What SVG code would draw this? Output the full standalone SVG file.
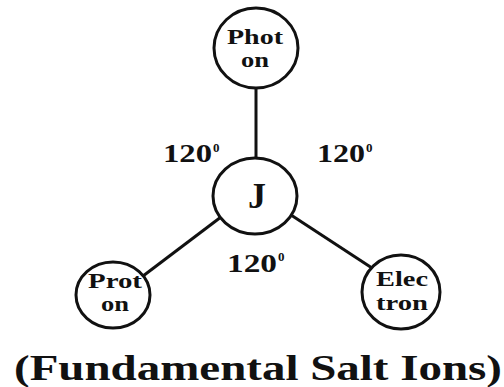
<svg xmlns="http://www.w3.org/2000/svg" width="504" height="387" viewBox="0 0 504 387">
<style>
.node ellipse{fill:#fff;stroke:#111;stroke-width:3}
.conn line{stroke:#111;stroke-width:3}
text{font-family:'Liberation Serif','DejaVu Serif Condensed','Times New Roman',serif;font-weight:700;fill:#111;text-anchor:middle}
.lbl{font-size:22px}
.ang{font-size:25px;text-anchor:start}
.sup{font-size:13px;text-anchor:start}
</style>
<rect width="504" height="387" fill="#fff"/>
<g class="conn">
<line x1="256" y1="88" x2="256" y2="158"/>
<line x1="221" y1="217" x2="143" y2="276"/>
<line x1="291" y1="215" x2="372" y2="268"/>
</g>
<g id="photon" class="node">
<ellipse cx="256" cy="48" rx="42" ry="40"/>
<text class="lbl" x="255" y="44" textLength="56" lengthAdjust="spacingAndGlyphs">Phot</text>
<text class="lbl" x="255" y="67" textLength="28" lengthAdjust="spacingAndGlyphs">on</text>
</g>
<g id="j" class="node">
<ellipse cx="255" cy="196" rx="42" ry="38"/>
<text x="257" y="208" style="font-size:36px">J</text>
</g>
<g id="proton" class="node">
<ellipse cx="113" cy="295" rx="37" ry="33"/>
<text class="lbl" x="115" y="288" textLength="54" lengthAdjust="spacingAndGlyphs">Prot</text>
<text class="lbl" x="115" y="311" textLength="28" lengthAdjust="spacingAndGlyphs">on</text>
</g>
<g id="electron" class="node">
<ellipse cx="401" cy="292" rx="39" ry="37"/>
<text class="lbl" x="402" y="286" textLength="52" lengthAdjust="spacingAndGlyphs">Elec</text>
<text class="lbl" x="402" y="310" textLength="52" lengthAdjust="spacingAndGlyphs">tron</text>
</g>
<g id="angles">
<text class="ang" x="163" y="162" textLength="49" lengthAdjust="spacingAndGlyphs">120</text><text class="sup" x="213" y="152">0</text>
<text class="ang" x="317" y="162" textLength="48" lengthAdjust="spacingAndGlyphs">120</text><text class="sup" x="366" y="152">0</text>
<text class="ang" x="227" y="272" textLength="50" lengthAdjust="spacingAndGlyphs">120</text><text class="sup" x="278" y="261">0</text>
</g>
<text x="258" y="380" style="font-size:36px" textLength="488" lengthAdjust="spacingAndGlyphs">(Fundamental Salt Ions)</text>
</svg>
